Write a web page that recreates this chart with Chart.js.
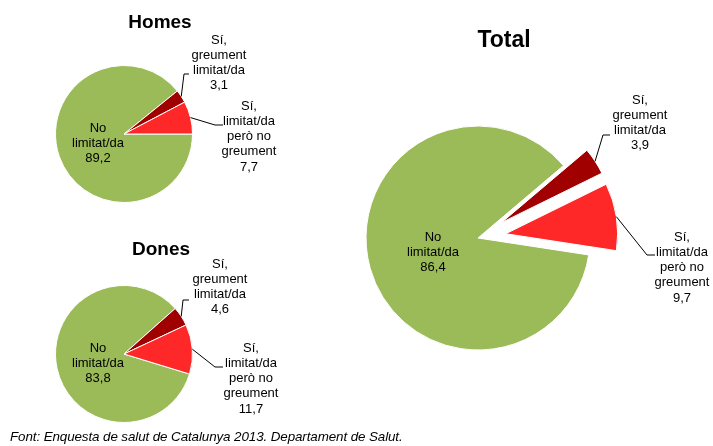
<!DOCTYPE html>
<html>
<head>
<meta charset="utf-8">
<script src="https://cdn.jsdelivr.net/npm/chart.js@4/dist/chart.umd.min.js"></script>
<style>
  html, body { margin: 0; padding: 0; background: #fff; }
  #wrap { position: relative; width: 713px; height: 446px; overflow: hidden; }
  #wrap canvas { position: absolute; left: 0; top: 0; }
  #font {
    position: absolute; left: 10px; top: 429px;
    font-family: "Liberation Sans", Arial, sans-serif;
    font-style: italic; font-size: 13.4px; letter-spacing: -0.1px; color: #000;
    white-space: nowrap;
  }
</style>
</head>
<body>
<div id="wrap">
  <canvas id="cHomes" width="713" height="446"></canvas>
  <canvas id="cDones" width="713" height="446"></canvas>
  <canvas id="cTotal" width="713" height="446"></canvas>
  <div id="font">Font: Enquesta de salut de Catalunya 2013. Departament de Salut.</div>
</div>
<script>
// Slice categories (clockwise order) and percentages per group
const categories = [
  ['No', 'limitat/da'],
  ['Sí,', 'greument', 'limitat/da'],
  ['Sí,', 'limitat/da', 'però no', 'greument']
];
const homes = [89.2, 3.1, 7.7];
const dones = [83.8, 4.6, 11.7];
const total = [86.4, 3.9, 9.7];
const titles = ['Homes', 'Dones', 'Total'];

const colors = ['#9BBB59', '#A00000', '#FF2828'];
const W = 713, H = 446;
const LABEL_FONT = '13px "Liberation Sans", Arial, sans-serif';
const LINE_H = 15.3;

const fmt = v => v.toFixed(1).replace('.', ',');

// Shifts chosen slices outward along their mid angle (exploded pie)
const explodePlugin = {
  id: 'explode',
  afterDatasetsUpdate(chart, args, opts) {
    const shifts = opts.shift || [];
    chart.getDatasetMeta(0).data.forEach((arc, i) => {
      const s = shifts[i] || 0;
      if (!s) return;
      const mid = (arc.startAngle + arc.endAngle) / 2;
      arc.x += Math.cos(mid) * s;
      arc.y += Math.sin(mid) * s;
    });
  }
};

// Title, slice labels and leader lines
const labelPlugin = {
  id: 'sliceLabels',
  afterDraw(chart, args, opts) {
    const ctx = chart.ctx;
    const meta = chart.getDatasetMeta(0);
    const values = chart.data.datasets[0].data;
    ctx.save();
    ctx.fillStyle = '#000';
    ctx.textAlign = 'center';
    ctx.textBaseline = 'middle';
    ctx.font = opts.titleFont;
    ctx.fillText(opts.title, opts.titlePos[0], opts.titlePos[1]);

    ctx.font = LABEL_FONT;
    meta.data.forEach((arc, i) => {
      const lay = opts.layout[i];
      const lines = chart.data.labels[i].concat([fmt(values[i])]);
      lines.forEach((t, k) => ctx.fillText(t, lay.x, lay.y + k * LINE_H));
      if (lay.leader) {
        const p = arc.getProps(['x', 'y', 'startAngle', 'endAngle', 'outerRadius'], true);
        const mid = (p.startAngle + p.endAngle) / 2;
        ctx.beginPath();
        ctx.moveTo(p.x + Math.cos(mid) * p.outerRadius, p.y + Math.sin(mid) * p.outerRadius);
        lay.leader.forEach(pt => ctx.lineTo(pt[0], pt[1]));
        ctx.strokeStyle = '#000';
        ctx.lineWidth = 1;
        ctx.stroke();
      }
    });
    ctx.restore();
  }
};

function makePie(id, values, title, o) {
  return new Chart(document.getElementById(id), {
    type: 'pie',
    data: {
      labels: categories,
      datasets: [{
        data: values,
        backgroundColor: colors,
        borderColor: '#ffffff',
        borderWidth: 1
      }]
    },
    options: {
      responsive: false,
      animation: false,
      events: [],
      rotation: o.rotation,
      radius: o.r,
      layout: {
        padding: {
          left: o.cx - o.r, right: W - o.cx - o.r,
          top: o.cy - o.r, bottom: H - o.cy - o.r
        }
      },
      plugins: {
        legend: { display: false },
        tooltip: { enabled: false },
        title: { display: false },
        explode: { shift: o.shift || [] },
        sliceLabels: {
          title: title,
          titleFont: o.titleFont,
          titlePos: o.titlePos,
          layout: o.layout
        }
      }
    },
    plugins: [explodePlugin, labelPlugin]
  });
}

makePie('cHomes', homes, titles[0], {
  cx: 124, cy: 134, r: 68.5, rotation: 90,
  titleFont: 'bold 19px "Liberation Sans", Arial, sans-serif', titlePos: [160, 23],
  layout: [
    { x: 98, y: 128 },
    { x: 219, y: 40, leader: [[184, 74], [189, 74]] },
    { x: 249, y: 106, leader: [[215, 125], [223, 125]] }
  ]
});

makePie('cDones', dones, titles[1], {
  cx: 124, cy: 354, r: 68.5, rotation: 107,
  titleFont: 'bold 19px "Liberation Sans", Arial, sans-serif', titlePos: [161, 250],
  layout: [
    { x: 98, y: 348 },
    { x: 220, y: 264, leader: [[183, 300], [189, 300]] },
    { x: 251, y: 348, leader: [[215, 367], [223, 367]] }
  ]
});

makePie('cTotal', total, titles[2], {
  cx: 478, cy: 238, r: 112, rotation: 98.7, shift: [0, 28, 28],
  titleFont: 'bold 23px "Liberation Sans", Arial, sans-serif', titlePos: [504, 41],
  layout: [
    { x: 433, y: 237 },
    { x: 640, y: 100, leader: [[603, 135], [610, 135]] },
    { x: 682, y: 237, leader: [[647, 255], [655, 255]] }
  ]
});
</script>
</body>
</html>
